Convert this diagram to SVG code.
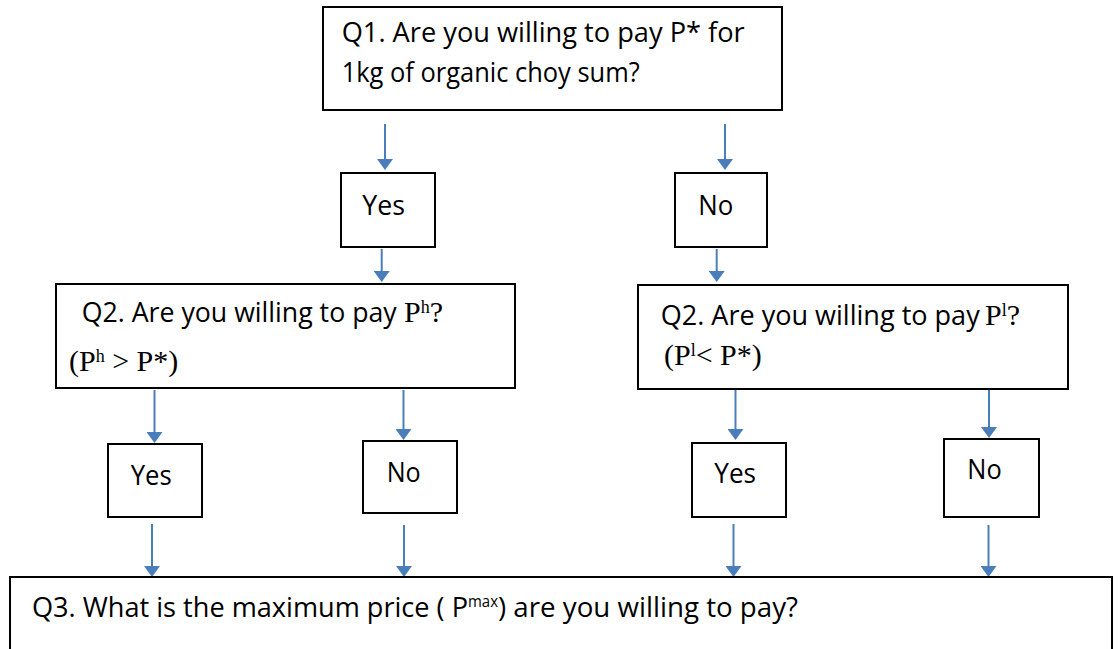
<svg xmlns="http://www.w3.org/2000/svg" width="1120" height="649" viewBox="0 0 1120 649">
<defs>
<marker id="ah" markerUnits="userSpaceOnUse" markerWidth="11" markerHeight="16" refX="5" refY="8" orient="auto">
<path d="M0,0 L11,8 L0,16 z" fill="#4A7EBB"/>
</marker>
<style>
.box{fill:#fff;stroke:#000;stroke-width:2}
.t{font-family:"Open Sans","Noto Sans","Liberation Sans",sans-serif;font-size:27px;fill:#000}
.s{font-family:"Liberation Serif","Times New Roman",serif;font-size:30px;fill:#000}
.sup{font-size:18px}
.c{stroke:#4A7EBB;stroke-width:2;fill:none;marker-end:url(#ah)}
</style>
</defs>
<rect width="1120" height="649" fill="#fff"/>
<g id="connectors">
<line class="c" x1="385" y1="124" x2="385" y2="164"/>
<line class="c" x1="725" y1="124" x2="725" y2="164"/>
<line class="c" x1="381.7" y1="249" x2="381.7" y2="276"/>
<line class="c" x1="716.7" y1="249" x2="716.7" y2="276"/>
<line class="c" x1="154.5" y1="390" x2="154.5" y2="437"/>
<line class="c" x1="403.5" y1="390" x2="403.5" y2="434"/>
<line class="c" x1="735.5" y1="390" x2="735.5" y2="434"/>
<line class="c" x1="989" y1="390" x2="989" y2="432"/>
<line class="c" x1="152" y1="524" x2="152" y2="571"/>
<line class="c" x1="404" y1="525" x2="404" y2="571"/>
<line class="c" x1="733.5" y1="524" x2="733.5" y2="571"/>
<line class="c" x1="988.5" y1="525" x2="988.5" y2="571"/>
</g>
<g id="q1">
<rect class="box" x="323" y="7" width="459" height="103"/>
<text class="t" x="341.7" y="41.5" textLength="403" lengthAdjust="spacingAndGlyphs">Q1. Are you willing to pay P* for</text>
<text class="t" x="341.7" y="81.5" textLength="298" lengthAdjust="spacingAndGlyphs">1kg of organic choy sum?</text>
</g>
<g id="yes1">
<rect class="box" x="341" y="173" width="94" height="74"/>
<text class="t" x="362.3" y="215" textLength="42.7" lengthAdjust="spacingAndGlyphs">Yes</text>
</g>
<g id="no1">
<rect class="box" x="675" y="173" width="92" height="74"/>
<text class="t" x="698.3" y="215" textLength="35" lengthAdjust="spacingAndGlyphs">No</text>
</g>
<g id="q2high">
<rect class="box" x="56" y="284" width="459" height="104"/>
<text class="t" x="81.7" y="321.7" textLength="315" lengthAdjust="spacingAndGlyphs">Q2. Are you willing to pay</text>
<text class="s" x="404" y="321.7">P<tspan class="sup" dy="-9">h</tspan><tspan dy="9">?</tspan></text>
<text class="s" x="69" y="371">(P<tspan class="sup" dy="-9">h</tspan><tspan dy="9"> &gt; P*)</tspan></text>
</g>
<g id="q2low">
<rect class="box" x="638" y="285" width="430" height="104"/>
<text class="t" x="660.7" y="325" textLength="319" lengthAdjust="spacingAndGlyphs">Q2. Are you willing to pay</text>
<text class="s" x="985" y="325">P<tspan class="sup" dy="-9">l</tspan><tspan dy="9">?</tspan></text>
<text class="s" x="664" y="365">(P<tspan class="sup" dy="-9">l</tspan><tspan dy="9">&lt; P*)</tspan></text>
</g>
<g id="yes2">
<rect class="box" x="108" y="444" width="94" height="73"/>
<text class="t" x="130.7" y="485" textLength="41" lengthAdjust="spacingAndGlyphs">Yes</text>
</g>
<g id="no2">
<rect class="box" x="363" y="441" width="94" height="72"/>
<text class="t" x="386.7" y="481.7" textLength="34" lengthAdjust="spacingAndGlyphs">No</text>
</g>
<g id="yes3">
<rect class="box" x="692" y="443" width="94" height="74"/>
<text class="t" x="714.3" y="483.3" textLength="41.7" lengthAdjust="spacingAndGlyphs">Yes</text>
</g>
<g id="no3">
<rect class="box" x="944" y="439" width="95" height="78"/>
<text class="t" x="967.3" y="479.3" textLength="34.4" lengthAdjust="spacingAndGlyphs">No</text>
</g>
<g id="q3">
<rect class="box" x="10" y="577" width="1102" height="100"/>
<text class="t" x="32" y="616.7"><tspan textLength="436" lengthAdjust="spacingAndGlyphs">Q3. What is the maximum price ( P</tspan><tspan x="468" dy="-10" style="font-size:16px" textLength="30" lengthAdjust="spacingAndGlyphs">max</tspan><tspan x="498" dy="10" textLength="300" lengthAdjust="spacingAndGlyphs">) are you willing to pay?</tspan></text>
</g>
</svg>
